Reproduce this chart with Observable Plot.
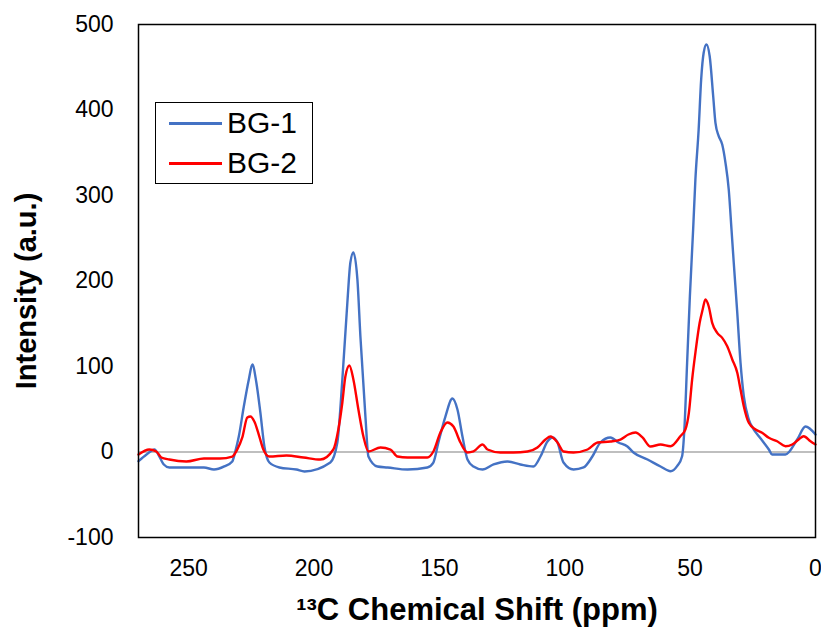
<!DOCTYPE html>
<html>
<head>
<meta charset="utf-8">
<script src="https://cdn.jsdelivr.net/npm/d3@7"></script>
<script src="https://cdn.jsdelivr.net/npm/@observablehq/plot@0.6"></script>
<style>
  html, body { margin: 0; padding: 0; background: #fff; }
  #wrap { position: relative; width: 821px; height: 628px; overflow: hidden; font-family: "Liberation Sans", Arial, sans-serif; }
  #legend { position: absolute; left: 155px; top: 102px; width: 156px; height: 80px; border: 1.5px solid #000; background: #fff; }
  .row { position: absolute; left: 0; height: 40px; display: flex; align-items: center; }
  .sw { width: 53px; height: 3px; margin-left: 13px; margin-right: 5px; }
  .lab { font-size: 30px; color: #000; }
</style>
</head>
<body>
<div id="wrap"></div>
<script>
// Series names
const seriesNames = ["BG-1", "BG-2"];
const seriesColors = ["#4472C4", "#FF0000"];

// BG-1: chemical shift (ppm) and intensity (a.u.)
const ppm1 = [270.0,266.8,263.6,262.1,259.9,257.7,250.9,243.9,239.9,235.8,232.6,231.5,230.0,228.0,226.0,224.6,223.0,221.4,219.8,217.8,213.8,207.0,203.8,193.5,190.7,188.7,186.7,185.5,184.3,182.7,181.5,179.5,178.3,174.7,170.7,162.7,154.8,152.4,150.4,147.6,144.8,142.8,140.8,138.8,136.4,132.8,128.4,122.9,117.7,112.5,109.7,106.9,104.9,102.9,100.5,96.5,92.5,89.0,85.8,81.8,78.6,75.0,72.6,67.0,61.8,57.8,55.2,53.2,52.3,51.2,50.1,48.8,47.9,46.6,45.6,44.6,43.5,42.2,40.8,39.9,38.6,37.2,35.9,34.6,33.5,32.6,31.2,29.9,28.6,26.6,24.6,22.6,20.6,18.6,17.3,12.0,7.3,4.0,0.0];
const bg1 = [-10.8,-2.9,2.9,-2.9,-14.6,-18.1,-18.1,-18.1,-20.5,-16.9,-11.1,-0.6,18.1,53.2,84.8,102.3,81.3,46.2,6.4,-12.3,-18.1,-20.5,-22.8,-12.3,11.1,84.8,174.9,221.6,233.3,201.8,135.1,41.5,-5.3,-17.0,-18.1,-20.5,-18.1,-12.3,11.1,41.5,62.6,49.7,18.1,-8.8,-17.0,-20.5,-14.6,-11.1,-14.6,-17.0,-5.3,12.3,17.0,11.1,-12.3,-20.5,-18.1,-5.3,11.1,17.0,11.1,6.4,-0.6,-8.8,-17.0,-22.5,-16.6,-4.9,26.3,104.3,182.2,260.2,318.7,377.2,435.7,466.9,476.6,462.9,416.1,385.0,369.4,359.6,338.2,307.0,260.2,221.3,162.8,104.3,65.3,38.0,26.3,18.5,10.8,2.9,-2.9,-2.9,14.6,29.8,20.5];

// BG-2: chemical shift (ppm) and intensity (a.u.)
const ppm2 = [270.0,265.7,262.9,260.9,257.7,250.9,243.9,237.5,232.6,230.6,228.6,226.6,225.4,223.8,221.8,220.2,217.8,211.0,204.2,197.5,192.3,190.3,188.7,187.5,185.9,184.3,182.3,180.3,178.3,173.5,169.5,166.7,162.7,154.8,152.4,149.6,146.8,144.4,141.6,138.8,136.4,132.8,130.8,125.7,120.5,114.9,110.9,107.7,105.7,102.9,100.5,96.5,90.9,86.9,81.8,77.8,74.6,71.8,69.0,65.8,61.8,57.8,53.9,51.9,50.5,49.2,47.9,46.2,45.0,43.9,42.6,41.2,39.2,37.2,35.2,33.2,31.2,29.9,28.6,26.6,23.9,21.3,18.6,15.3,12.0,9.3,6.7,4.7,2.0,0.0];
const bg2 = [-2.9,2.9,0.6,-6.4,-8.8,-11.1,-7.6,-7.6,-5.3,2.9,17.0,40.3,41.5,35.7,18.1,2.9,-5.3,-4.1,-6.4,-8.8,2.9,26.3,57.9,88.3,101.2,84.8,49.7,18.1,0.6,5.3,2.9,-5.3,-6.4,-6.4,0.6,22.8,34.5,29.8,11.1,-0.6,0.6,8.8,2.9,-0.6,-0.6,0.6,5.3,14.6,18.1,11.1,0.6,-0.6,2.9,11.1,12.3,14.6,20.5,22.8,17.0,6.4,8.8,6.8,18.5,26.3,45.8,84.8,116.0,151.1,166.7,178.4,170.5,151.1,139.4,133.5,123.7,108.2,92.6,73.1,53.6,34.2,26.3,22.5,16.6,12.6,6.8,8.8,14.6,18.5,12.6,8.8];

// Axis ticks
const xTicks = [250, 200, 150, 100, 50, 0];
const yTicks = [-100, 0, 100, 200, 300, 400, 500];

const rows = [
  ...ppm1.map((p, i) => ({series: seriesNames[0], ppm: p, val: bg1[i]})),
  ...ppm2.map((p, i) => ({series: seriesNames[1], ppm: p, val: bg2[i]}))
];

const chart = Plot.plot({
  width: 821,
  height: 628,
  marginLeft: 138,
  marginRight: 6,
  marginTop: 24,
  marginBottom: 91,
  style: {fontFamily: "Liberation Sans, Arial, sans-serif", fontSize: "23px", color: "#000", background: "#fff", overflow: "visible"},
  x: {domain: [270, 0]},
  y: {domain: [-100, 500]},
  color: {domain: seriesNames, range: seriesColors},
  marks: [
    Plot.ruleY([0], {stroke: "#bfbfbf", strokeWidth: 2}),
    Plot.line(rows, {x: "ppm", y: "val", z: "series", stroke: "series", strokeWidth: 2.4, curve: "monotone-x"}),
    Plot.frame({stroke: "#000", strokeWidth: 1.5}),
    Plot.axisX({ticks: xTicks, tickSize: 0, tickPadding: 22, fontSize: 23, label: null, tickFormat: d => String(d)}),
    Plot.axisY({ticks: yTicks, tickSize: 0, tickPadding: 25, fontSize: 23, label: null, tickFormat: d => String(d)}),
    Plot.text(["¹³C Chemical Shift (ppm)"], {frameAnchor: "bottom", dy: 82, fontSize: 31, fontWeight: "bold", fill: "#000"}),
    Plot.text(["Intensity (a.u.)"], {frameAnchor: "left", textAnchor: "middle", dx: -112, dy: 10, rotate: -90, fontSize: 29, fontWeight: "bold", fill: "#000"})
  ]
});

const wrap = document.getElementById("wrap");
wrap.appendChild(chart);

const legend = document.createElement("div");
legend.id = "legend";
seriesNames.forEach((name, i) => {
  const row = document.createElement("div");
  row.className = "row";
  row.style.top = (i * 40) + "px";
  const sw = document.createElement("div");
  sw.className = "sw";
  sw.style.background = seriesColors[i];
  const lab = document.createElement("span");
  lab.className = "lab";
  lab.textContent = name;
  row.appendChild(sw);
  row.appendChild(lab);
  legend.appendChild(row);
});
wrap.appendChild(legend);
</script>
</body>
</html>
